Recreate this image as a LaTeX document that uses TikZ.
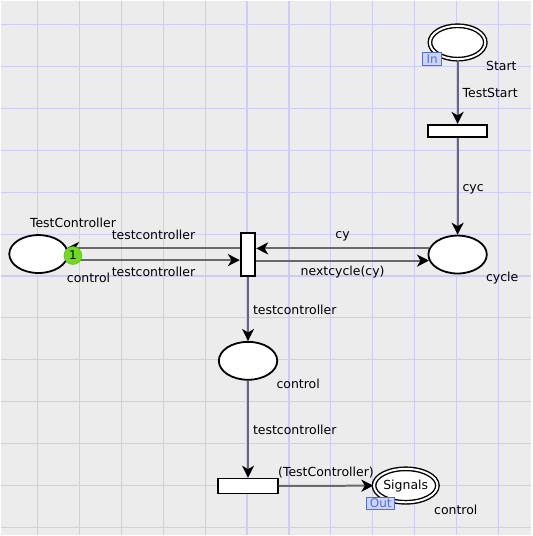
\documentclass[tikz,border=0pt]{standalone}
\usepackage{fontspec}
\setmainfont{DejaVu Sans}
\usetikzlibrary{shapes.geometric,arrows.meta}
\definecolor{bgcol}{RGB}{236,236,236}
\definecolor{gridcol}{RGB}{204,204,244}
\definecolor{arccol}{RGB}{104,104,112}
\definecolor{tokencol}{RGB}{110,220,30}
\definecolor{tagcol}{RGB}{85,110,215}
\definecolor{tagfill}{RGB}{205,212,250}

\tikzset{
  place/.style={draw=black, fill=white, ellipse, inner sep=0pt, line width=1.8pt,
    minimum width=58.5pt, minimum height=38pt},
  ioplace/.style={place, double, double distance=2pt, line width=1.4pt,
    minimum width=55.5pt, minimum height=33.5pt},
  trans/.style={draw=black, fill=white, rectangle, inner sep=0pt, line width=1.8pt},
  arc/.style={draw=arccol, line width=2pt,
    -{Stealth[length=12pt, width=12pt, inset=3.5pt, color=black]}},
  lbl/.style={inner sep=0pt, text height=9pt, text depth=2.5pt},
  token/.style={circle, fill=tokencol, draw=tokencol!80!black, line width=0.4pt,
    inner sep=0pt, minimum size=18pt, font=\fontsize{12}{14}\selectfont},
  tag/.style={draw=tagcol, fill=tagfill, text=tagcol, line width=1.2pt, inner sep=0pt,
    font=\fontsize{12}{14}\selectfont}
}

\begin{document}
\begin{tikzpicture}[x=1pt, y=-1pt, font=\fontsize{12.5}{15}\selectfont]

\fill[bgcol] (0,0) rectangle (532,536);
\foreach \x in {37,79,...,499}
    \draw[gridcol, line width=1.1pt] (\x,0) -- (\x,536);
\foreach \y in {24,66,...,528}
    \draw[gridcol, line width=1.1pt] (0,\y) -- (532,\y);

% places
\node[ioplace] (start) at (458,42) {};
\node[place] (cycle) at (458,254.5) {};
\node[place] (tc) at (38,254) {};
\node[place] (control) at (248,361) {};
\node[ioplace] (signals) at (406,486) {Signals};

% transitions
\node[trans, minimum width=59.5pt, minimum height=12pt] (tstart) at (458,130.5) {};
\node[trans, minimum width=14.5pt, minimum height=43pt] (tmain) at (248,254.5) {};
\node[trans, minimum width=59.5pt, minimum height=15pt] (tout) at (248,486.5) {};

% arcs
\draw[arc] (start) -- (tstart) node[lbl, midway, right=4pt, yshift=-2pt] {TestStart};
\draw[arc] (tstart) -- (cycle) node[lbl, midway, right=4pt, yshift=-2pt] {cyc};
\draw[arc] (cycle.168) -- (cycle.168 -| tmain.east) node[lbl, midway, above=6pt] {cy};
\draw[arc] (tmain.east |- cycle.192) -- (cycle.192) node[lbl, midway, below=5pt] {nextcycle(cy)};
\draw[arc] (tc.12 -| tmain.west) -- (tc.12) node[lbl, midway, above=5pt] {testcontroller};
\draw[arc] (tc.348) -- (tc.348 -| tmain.west) node[lbl, midway, below=6pt] {testcontroller};
\draw[arc] (tmain) -- (control) node[lbl, midway, right=4pt, yshift=-2pt] {testcontroller};
\draw[arc] (control) -- (tout) node[lbl, midway, right=4pt, yshift=-2pt] {testcontroller};
\draw[arc] (tout) -- (signals) node[lbl, midway, above=5.5pt] {(TestController)};

% place inscriptions
\node[anchor=base west] (startname) at (483,70) {Start};
\node[anchor=base west] (tcname) at (26,227) {TestController};
\node[anchor=base west] (tctype) at (63,283) {control};
\node[anchor=base west] (cycletype) at (483,282) {cycle};
\node[anchor=base west] (controltype) at (273,389) {control};
\node[anchor=base west] (signalstype) at (431,515) {control};

% marking and port tags
\node[token] (tok) at (72.5,255.5) {1};
\node[tag, minimum width=19pt, minimum height=13pt] (intag) at (432.5,58.5) {In};
\node[tag, minimum width=28pt, minimum height=12pt] (outtag) at (381,504) {Out};

\end{tikzpicture}
\end{document}
